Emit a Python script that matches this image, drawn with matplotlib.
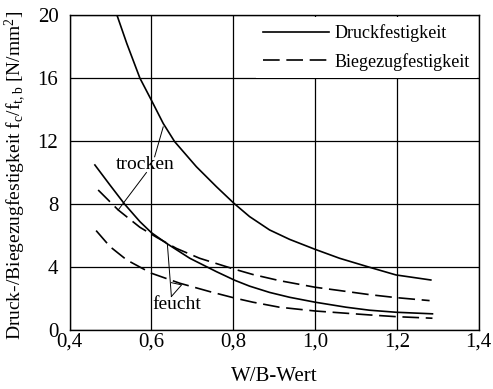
import matplotlib
matplotlib.use("Agg")
import matplotlib.pyplot as plt

plt.rcParams['font.family'] = ['Liberation Serif', 'DejaVu Serif']
plt.rcParams['mathtext.fontset'] = 'custom'
plt.rcParams['mathtext.rm'] = 'Liberation Serif'
plt.rcParams['mathtext.it'] = 'Liberation Serif:italic'

# Druckfestigkeit, trocken / feucht
wb_dt = [0.516, 0.540, 0.572, 0.6, 0.629, 0.657, 0.710, 0.759, 0.802,
         0.840, 0.889, 0.938, 1.0, 1.06, 1.133, 1.198, 1.283]
f_dt = [20.0, 18.2, 16.0, 14.6, 13.12, 11.96, 10.37, 9.1, 8.04,
        7.2, 6.35, 5.75, 5.12, 4.55, 3.98, 3.49, 3.17]
wb_df = [0.462, 0.499, 0.535, 0.572, 0.6, 0.637, 0.694, 0.759, 0.804,
         0.84, 0.889, 0.938, 1.0, 1.076, 1.133, 1.198, 1.287]
f_df = [10.48, 9.2, 7.98, 6.88, 6.18, 5.5, 4.55, 3.7, 3.15,
        2.78, 2.38, 2.07, 1.76, 1.44, 1.25, 1.12, 1.02]

# Biegezugfestigkeit, trocken / feucht
wb_bt = [0.47, 0.519, 0.572, 0.613, 0.661, 0.718, 0.8, 0.848, 0.913,
         1.0, 1.06, 1.133, 1.198, 1.28]
f_bt = [8.89, 7.62, 6.52, 5.88, 5.18, 4.55, 3.88, 3.52, 3.13,
        2.71, 2.5, 2.24, 2.05, 1.86]
wb_bf = [0.465, 0.499, 0.54, 0.6, 0.67, 0.743, 0.804, 0.848, 0.913,
         1.0, 1.133, 1.198, 1.287]
f_bf = [6.31, 5.29, 4.44, 3.6, 2.96, 2.43, 2.02, 1.76, 1.44,
        1.2, 0.95, 0.84, 0.74]

xticks = [0.4, 0.6, 0.8, 1.0, 1.2, 1.4]
yticks = [0, 4, 8, 12, 16, 20]

fig = plt.figure(figsize=(4.93, 3.89), dpi=100)
ax = fig.add_axes([0.141, 0.152, 0.830, 0.809])

dash = (10, 4)
ax.plot(wb_dt, f_dt, color='black', lw=1.2, label='Druckfestigkeit')
ax.plot(wb_df, f_df, color='black', lw=1.2)
ax.plot(wb_bt, f_bt, color='black', lw=1.2, dashes=dash, label='Biegezugfestigkeit')
ax.plot(wb_bf, f_bf, color='black', lw=1.2, dashes=dash)

ax.set_xlim(0.4, 1.4)
ax.set_ylim(0, 20)
ax.set_xticks(xticks)
ax.set_xticklabels([f"{v:.1f}".replace('.', ',') for v in xticks])
ax.set_yticks(yticks)
ax.tick_params(length=0, labelsize=15)
ax.tick_params(axis='x', pad=2)
ax.tick_params(axis='y', pad=8)
ax.grid(True, color='black', lw=0.9)
for s in ax.spines.values():
    s.set_linewidth(1.0)

ax.set_xlabel('W/B-Wert', fontsize=15)
ax.xaxis.set_label_coords(0.5, -0.147)
ax.xaxis.label.set_va('center')
ax.set_ylabel(r'Druck-/Biegezugfestigkeit f$_\mathrm{c}$/f$_\mathrm{t,b}$ [N/mm$^2$]',
              fontsize=14)
ax.yaxis.set_label_coords(-0.133, 0.49)
ax.yaxis.label.set_va('center')

# Beschriftungen trocken / feucht
ax.text(0.584, 10.48, 'trocken', fontsize=14, ha='center', va='center')
ax.plot([0.608, 0.629], [11.0, 12.9], color='black', lw=0.7)
ax.plot([0.588, 0.519], [10.0, 7.62], color='black', lw=0.7)
ax.text(0.663, 1.6, 'feucht', fontsize=14, ha='center', va='center')
ax.plot([0.649, 0.639], [2.12, 5.5], color='black', lw=0.7)
ax.plot([0.649, 0.674, 0.649], [2.12, 2.86, 3.0], color='black', lw=0.7)

leg = ax.legend(loc='upper right', fontsize=13, frameon=True, fancybox=False,
                framealpha=1, edgecolor='none', handlelength=3.66,
                handletextpad=0.3, labelspacing=0.6, borderaxespad=0.1)

fig.savefig('out.png', dpi=100)
